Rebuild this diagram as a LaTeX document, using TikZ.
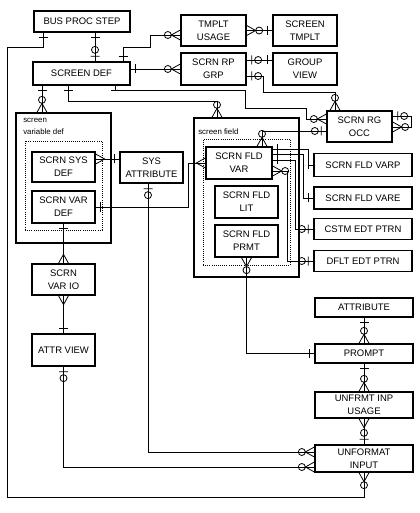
\documentclass[tikz,border=0pt]{standalone}
\usepackage{fontspec}
\setmainfont{Liberation Sans}
\usetikzlibrary{arrows.meta}

\newlength\px
\setlength\px{0.75pt}
\newcommand\entfont{\fontsize{7.1}{9.75}\selectfont}
\newcommand\grpfont{\fontsize{5.9}{9}\selectfont}

\tikzset{
  ent/.style={draw, line width=1pt, align=center, inner sep=0pt, font=\entfont},
  grp/.style={draw, line width=1pt, inner sep=0pt},
  dotgrp/.style={draw, densely dotted, line width=0.6pt, inner sep=0pt},
  grplbl/.style={anchor=west, inner sep=0pt, font=\grpfont},
  rel/.style={line width=0.6pt},
  one/.pic={\draw[rel] (5,-4.5) -- (5,4.5);},
  many/.pic={\draw[rel] (0,-5) -- (9,0) -- (0,5);},
  zone/.pic={\draw[rel] (5,-4.5) -- (5,4.5) (11.5,0) circle[radius=3.5];},
  zmany/.pic={\draw[rel] (0,-5) -- (9,0) -- (0,5) (12.5,0) circle[radius=3.5];},
}

\begin{document}
\begin{tikzpicture}[x=0.75pt, y=-0.75pt]
  \useasboundingbox (0,0) rectangle (419,513);

  % groups
  \node[grp, minimum width=95\px, minimum height=130\px] (vargrp) at (63.5,178) {};
  \node[dotgrp, minimum width=77\px, minimum height=89\px] (vardot) at (63.5,185.5) {};
  \node[grplbl] (vargrplbl) at (23,120) {screen};
  \node[grplbl] (vargrplbl2) at (23,132) {variable def};
  \node[grp, minimum width=105\px, minimum height=159\px] (fldgrp) at (246.5,197.5) {};
  \node[dotgrp, minimum width=87\px, minimum height=126\px] (flddot) at (246.5,202) {};
  \node[grplbl] (fldgrplbl) at (198,132) {screen field};

  % entities
  \node[ent, minimum width=96\px, minimum height=21\px] (busproc) at (82,21.5) {BUS PROC STEP};
  \node[ent, minimum width=97\px, minimum height=23\px] (scrdef) at (81.5,73.5) {SCREEN DEF};
  \node[ent, minimum width=65\px, minimum height=31\px] (tmpltuse) at (213.5,30.5) {TMPLT\\USAGE};
  \node[ent, minimum width=64\px, minimum height=31\px] (scrtmplt) at (305,30.5) {SCREEN\\TMPLT};
  \node[ent, minimum width=65\px, minimum height=32\px] (rpgrp) at (213.5,69) {SCRN RP\\GRP};
  \node[ent, minimum width=64\px, minimum height=32\px] (grpview) at (305,69) {GROUP\\VIEW};
  \node[ent, minimum width=65\px, minimum height=31\px] (rgocc) at (359.5,126.5) {SCRN RG\\OCC};
  \node[ent, minimum width=63\px, minimum height=30\px] (sysdef) at (63.5,167) {SCRN SYS\\DEF};
  \node[ent, minimum width=63\px, minimum height=32\px] (vardef) at (63.5,207) {SCRN VAR\\DEF};
  \node[ent, minimum width=63\px, minimum height=31\px] (sysattr) at (151.5,167.5) {SYS\\ATTRIBUTE};
  \node[ent, minimum width=63\px, minimum height=31\px] (vario) at (63.5,279.5) {SCRN\\VAR IO};
  \node[ent, minimum width=63\px, minimum height=32\px] (attrview) at (63.5,350) {ATTR VIEW};
  \node[ent, minimum width=66\px, minimum height=32\px] (fldvar) at (239,163) {SCRN FLD\\VAR};
  \node[ent, minimum width=63\px, minimum height=32\px] (fldlit) at (246.5,202) {SCRN FLD\\LIT};
  \node[ent, minimum width=63\px, minimum height=32\px] (fldprmt) at (246.5,241) {SCRN FLD\\PRMT};
  \node[ent, minimum width=98\px, minimum height=23\px] (varp) at (363,165) {SCRN FLD VARP};
  \node[ent, minimum width=98\px, minimum height=22\px] (vare) at (363,198) {SCRN FLD VARE};
  \node[ent, minimum width=98\px, minimum height=21\px] (cstm) at (363,229) {CSTM EDT PTRN};
  \node[ent, minimum width=98\px, minimum height=21\px] (dflt) at (363,261) {DFLT EDT PTRN};
  \node[ent, minimum width=98\px, minimum height=19\px] (attribute) at (364,307.5) {ATTRIBUTE};
  \node[ent, minimum width=98\px, minimum height=19\px] (prompt) at (364,353.5) {PROMPT};
  \node[ent, minimum width=98\px, minimum height=26\px] (unfusage) at (364,405) {UNFRMT INP\\USAGE};
  \node[ent, minimum width=98\px, minimum height=27\px] (unfinput) at (364,458.5) {UNFORMAT\\INPUT};

  % BUS PROC STEP
  \draw[rel] (busproc.south -| 43,0) -- (43,47) -- (7,47) -- (7,497) -| (unfinput.south);
  \pic[rotate=-90] at (busproc.south -| 43,0) {one};
  \pic[rotate=-90] at (unfinput.south) {zmany};
  \draw[rel] (busproc.south -| 95,0) -- (scrdef.north -| 95,0);
  \pic[rotate=-90] at (busproc.south -| 95,0) {one};
  \pic[rotate=90] at (scrdef.north -| 95,0) {zone};

  % SCREEN DEF
  \draw[rel] (scrdef.north -| 123,0) -- (123,47) -- (150,47) -- (150,35) -- (tmpltuse.west |- 0,35);
  \pic[rotate=90] at (scrdef.north -| 123,0) {one};
  \pic[rotate=180] at (tmpltuse.west |- 0,35) {zmany};
  \draw[rel] (scrdef.east |- 0,69) -- (rpgrp.west |- 0,69);
  \pic at (scrdef.east |- 0,69) {one};
  \pic[rotate=180] at (rpgrp.west |- 0,69) {zmany};
  \draw[rel] (scrdef.south -| 42,0) -- (vargrp.north -| 42,0);
  \pic[rotate=-90] at (scrdef.south -| 42,0) {one};
  \pic[rotate=90] at (vargrp.north -| 42,0) {zmany};
  \draw[rel] (scrdef.south -| 68,0) -- (68,101) -- (217,101) -- (fldgrp.north -| 217,0);
  \pic[rotate=-90] at (scrdef.south -| 68,0) {one};
  \pic[rotate=90] at (fldgrp.north -| 217,0) {zmany};
  \draw[rel] (scrdef.south -| 115,0) -- (115,90) -- (245,90) -- (245,108) -- (306,108) -- (306,119) -- (rgocc.west |- 0,119);
  \pic[rotate=-90] at (scrdef.south -| 115,0) {one};
  \pic[rotate=180] at (rgocc.west |- 0,119) {zmany};

  % top right
  \draw[rel] (tmpltuse.east) -- (scrtmplt.west);
  \pic at (tmpltuse.east) {zmany};
  \pic[rotate=180] at (scrtmplt.west) {one};
  \draw[rel] (rpgrp.east |- 0,60) -- (grpview.west |- 0,60);
  \pic at (rpgrp.east |- 0,60) {zone};
  \pic[rotate=180] at (grpview.west |- 0,60) {one};
  \draw[rel] (rpgrp.east |- 0,76) -- (263,76) -- (263,92) -- (335,92) -- (rgocc.north -| 335,0);
  \pic at (rpgrp.east |- 0,76) {zone};
  \pic[rotate=90] at (rgocc.north -| 335,0) {zmany};

  % SCRN RG OCC
  \draw[rel] (rgocc.east |- 0,116) -- (411,116) -- (411,127) -- (rgocc.east |- 0,127);
  \pic at (rgocc.east |- 0,116) {zone};
  \pic at (rgocc.east |- 0,127) {zmany};
  \draw[rel] (fldvar.north -| 262,0) -- (262,131) -- (rgocc.west |- 0,131);
  \pic[rotate=90] at (fldvar.north -| 262,0) {zmany};
  \pic[rotate=180] at (rgocc.west |- 0,131) {zone};

  % screen variable def
  \draw[rel] (sysdef.east |- 0,159) -- (sysattr.west |- 0,159);
  \pic at (sysdef.east |- 0,159) {many};
  \pic[rotate=180] at (sysattr.west |- 0,159) {one};
  \draw[rel] (vardef.east) -- (188,207) -- (188,163) -- (fldvar.west);
  \pic at (vardef.east) {one};
  \pic[rotate=180] at (fldvar.west) {many};
  \draw[rel] (vardef.south) -- (vario.north);
  \pic[rotate=-90] at (vardef.south) {one};
  \pic[rotate=90] at (vario.north) {many};
  \draw[rel] (vario.south) -- (attrview.north);
  \pic[rotate=-90] at (vario.south) {many};
  \pic[rotate=90] at (attrview.north) {one};
  \draw[rel] (attrview.south) -- (63.5,467) -- (unfinput.west |- 0,467);
  \pic[rotate=-90] at (attrview.south) {zone};
  \pic[rotate=180] at (unfinput.west |- 0,467) {zmany};
  \draw[rel] (sysattr.south -| 148,0) -- (148,452) -- (unfinput.west |- 0,452);
  \pic[rotate=-90] at (sysattr.south -| 148,0) {zone};
  \pic[rotate=180] at (unfinput.west |- 0,452) {zmany};

  % screen field
  \draw[rel] (fldvar.east |- 0,149) -- (308,149) -- (308,165) -- (varp.west);
  \pic at (fldvar.east |- 0,149) {one};
  \pic[rotate=180] at (varp.west) {one};
  \draw[rel] (fldvar.east |- 0,154) -- (303,154) -- (303,198) -- (vare.west);
  \pic at (fldvar.east |- 0,154) {one};
  \pic[rotate=180] at (vare.west) {one};
  \draw[rel] (fldvar.east |- 0,160) -- (295,160) -- (295,229) -- (cstm.west);
  \pic at (fldvar.east |- 0,160) {one};
  \pic[rotate=180] at (cstm.west) {zone};
  \draw[rel] (fldvar.east |- 0,171) -- (287,171) -- (287,261) -- (dflt.west);
  \pic at (fldvar.east |- 0,171) {zmany};
  \pic[rotate=180] at (dflt.west) {zone};
  \draw[rel] (fldprmt.south) -- (fldprmt.south |- prompt.west) -- (prompt.west);
  \pic[rotate=-90] at (fldprmt.south) {zmany};
  \pic[rotate=180] at (prompt.west) {one};

  % right column
  \draw[rel] (attribute.south) -- (prompt.north);
  \pic[rotate=-90] at (attribute.south) {one};
  \pic[rotate=90] at (prompt.north) {zmany};
  \draw[rel] (prompt.south) -- (unfusage.north);
  \pic[rotate=-90] at (prompt.south) {one};
  \pic[rotate=90] at (unfusage.north) {zmany};
  \draw[rel] (unfusage.south) -- (unfinput.north);
  \pic[rotate=-90] at (unfusage.south) {many};
  \pic[rotate=90] at (unfinput.north) {zone};
\end{tikzpicture}
\end{document}
